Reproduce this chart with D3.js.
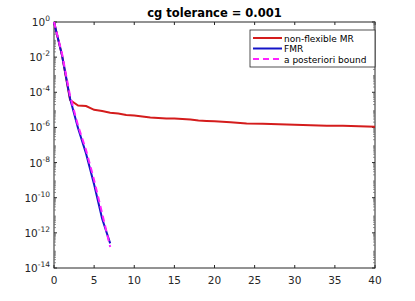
<!DOCTYPE html>
<html>
  <head>
    <meta charset="utf-8" />
    <title>cg tolerance</title>
    <style>
      body { margin: 0; background: #fff; }
      text { font-family: "DejaVu Sans", sans-serif; fill: #262626; }
    </style>
  </head>
  <body>
  <div id="container"></div>
  <script src="https://cdn.jsdelivr.net/npm/d3@7/dist/d3.min.js"></script>
  <script type="text/javascript">

    // log10 of the residual
    var mrIter = [0, 1, 2, 3, 4, 5, 6, 7, 8, 9, 10, 11, 12, 13, 14, 15, 16, 17, 18, 19, 20,
                  22, 24, 26, 28, 30, 32, 34, 36, 38, 40];
    var mrLog = [0, -1.9, -4.44, -4.75, -4.78, -5.0, -5.07, -5.16, -5.21, -5.29, -5.32, -5.38,
                 -5.44, -5.46, -5.49, -5.49, -5.52, -5.55, -5.61, -5.63, -5.65,
                 -5.71, -5.77, -5.79, -5.82, -5.85, -5.87, -5.9, -5.91, -5.94, -5.96];
    var fmrIter = [0, 1, 2, 3, 4, 5, 6, 7];
    var fmrLog = [0, -1.9, -4.35, -6.05, -7.5, -9.25, -11.2, -12.6];
    var boundIter = [0, 1, 2, 3, 4, 5, 6, 7];
    var boundLog = [0, -1.8, -4.2, -5.9, -7.3, -9.0, -10.9, -12.8];

    var xTicks = [0, 5, 10, 15, 20, 25, 30, 35, 40];
    var yExps = [0, -2, -4, -6, -8, -10, -12, -14];
    var legendNames = ['non-flexible MR', 'FMR', 'a posteriori bound'];

    var width = 415, height = 301;
    // plot box (note: "top" is reserved on window, so use pTop)
    var pLeft = 54, pRight = 375, pTop = 22, pBottom = 268;

    var svg = d3.select('#container').append('svg')
      .attr('width', width).attr('height', height);

    var x = d3.scaleLinear().domain([0, 40]).range([pLeft, pRight]);
    var y = d3.scaleLog().domain([1e-14, 1]).range([pBottom, pTop]);

    // minor ticks for the log axis
    var minor = [];
    for (var e = -14; e < 0; e++) {
      for (var m = 2; m <= 9; m++) minor.push(m * Math.pow(10, e));
    }

    var g = svg.append('g');

    // box
    g.append('rect').attr('x', pLeft).attr('y', pTop)
      .attr('width', pRight - pLeft).attr('height', pBottom - pTop)
      .attr('fill', 'none').attr('stroke', '#262626').attr('stroke-width', 1);

    // x ticks bottom & top
    xTicks.forEach(function(t) {
      g.append('line').attr('x1', x(t)).attr('x2', x(t)).attr('y1', pBottom).attr('y2', pBottom - 3)
        .attr('stroke', '#262626');
      g.append('line').attr('x1', x(t)).attr('x2', x(t)).attr('y1', pTop).attr('y2', pTop + 3)
        .attr('stroke', '#262626');
      g.append('text').attr('x', x(t)).attr('y', pBottom + 16)
        .attr('text-anchor', 'middle').attr('font-size', 10.5).text(t);
    });

    // y ticks
    yExps.forEach(function(p) {
      var v = Math.pow(10, p);
      g.append('line').attr('x1', pLeft).attr('x2', pLeft + 3).attr('y1', y(v)).attr('y2', y(v))
        .attr('stroke', '#262626');
      g.append('line').attr('x1', pRight).attr('x2', pRight - 3).attr('y1', y(v)).attr('y2', y(v))
        .attr('stroke', '#262626');
      var t = g.append('text').attr('x', pLeft - 4).attr('y', y(v) + 4)
        .attr('text-anchor', 'end').attr('font-size', 10.5);
      t.append('tspan').text('10');
      t.append('tspan').attr('dy', -5).attr('font-size', 7.5).text(p);
    });
    minor.forEach(function(v) {
      g.append('line').attr('x1', pLeft).attr('x2', pLeft + 2).attr('y1', y(v)).attr('y2', y(v))
        .attr('stroke', '#666').attr('stroke-width', 0.7);
      g.append('line').attr('x1', pRight).attr('x2', pRight - 2).attr('y1', y(v)).attr('y2', y(v))
        .attr('stroke', '#666').attr('stroke-width', 0.7);
    });

    var line = d3.line()
      .x(function(d) { return x(d[0]); })
      .y(function(d) { return y(Math.pow(10, d[1])); });

    var series = [
      { it: mrIter, v: mrLog, color: '#d41c1c', dash: null },
      { it: fmrIter, v: fmrLog, color: '#1414c8', dash: null },
      { it: boundIter, v: boundLog, color: '#ff22ff', dash: '6,4' }
    ];

    series.forEach(function(s) {
      g.append('path')
        .datum(d3.zip(s.it, s.v))
        .attr('d', line)
        .attr('fill', 'none')
        .attr('stroke', s.color)
        .attr('stroke-width', 2)
        .attr('stroke-dasharray', s.dash);
    });

    // title
    svg.append('text').attr('x', (pLeft + pRight) / 2).attr('y', 17)
      .attr('text-anchor', 'middle').attr('font-size', 11.5).attr('font-weight', 'bold')
      .style('fill', '#000').text('cg tolerance = 0.001');

    // legend
    var lg = svg.append('g');
    lg.append('rect').attr('x', 250).attr('y', 30).attr('width', 125).attr('height', 37)
      .attr('fill', '#fff').attr('stroke', '#262626').attr('stroke-width', 0.8);
    series.forEach(function(s, i) {
      var yy = 38 + i * 10.5;
      lg.append('line').attr('x1', 253).attr('x2', 282).attr('y1', yy).attr('y2', yy)
        .attr('stroke', s.color).attr('stroke-width', 2).attr('stroke-dasharray', s.dash);
      lg.append('text').attr('x', 284).attr('y', yy + 3.5).attr('font-size', 9)
        .style('fill', '#000').text(legendNames[i]);
    });

  </script>
  </body>
</html>
